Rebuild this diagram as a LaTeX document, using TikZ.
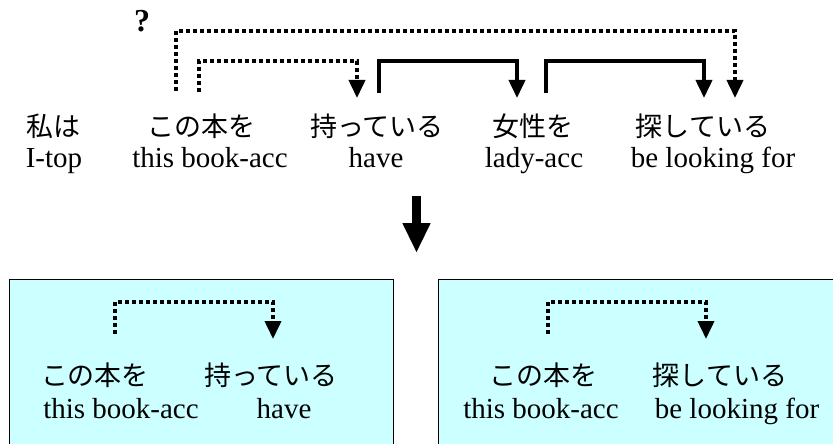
\documentclass[tikz,border=0pt]{standalone}
\usepackage{fontspec}
\setmainfont{Liberation Serif}
\newfontfamily\jpfont{Noto Sans CJK JP}
\usetikzlibrary{arrows.meta}
\definecolor{boxcyan}{HTML}{CCFFFF}
\begin{document}
\begin{tikzpicture}[x=1pt,y=-1pt,
  jpw/.style={font=\jpfont\fontsize{27}{32}\selectfont, anchor=base, inner sep=0pt},
  enw/.style={font=\fontsize{29}{34}\selectfont, anchor=base, inner sep=0pt},
  tip/.style={-{Triangle[width=16pt,length=18pt]}},
  dotarr/.style={tip, line width=3.8pt, dash pattern=on 4pt off 3pt, line join=miter},
  solarr/.style={tip, line width=3.8pt, line join=miter},
  panel/.style={draw=black, line width=1pt, fill=boxcyan}]
\useasboundingbox (0,0) rectangle (833,444);

% top row words
\node[jpw] (w1) at (54,136) {私は};
\node[jpw] (w2) at (201,136) {この本を};
\node[jpw] (w3) at (377,136) {持っている};
\node[jpw] (w4) at (533,136) {女性を};
\node[jpw] (w5) at (703,136) {探している};
\node[enw] (e1) at (54,167) {I-top};
\node[enw] (e2) at (210,167) {this book-acc};
\node[enw] (e3) at (376,167) {have};
\node[enw] (e4) at (534,167) {lady-acc};
\node[enw] (e5) at (713,167) {be looking for};

\node[font=\bfseries\fontsize{32}{36}\selectfont, inner sep=0pt] (q) at (142,21) {?};

% arrow anchors
\coordinate (a1s) at (176,91);
\coordinate (a1e) at (735,98);
\coordinate (a2s) at (199,92);
\coordinate (a2e) at (357,98);
\coordinate (a3s) at (379,93);
\coordinate (a3e) at (517,98);
\coordinate (a4s) at (546,93);
\coordinate (a4e) at (704,98);

\draw[dotarr] (a1s) -- (a1s |- 0,31) -- (a1e |- 0,31) -- (a1e);
\draw[dotarr] (a2s) -- (a2s |- 0,61) -- (a2e |- 0,61) -- (a2e);
\draw[solarr] (a3s) -- (a3s |- 0,61) -- (a3e |- 0,61) -- (a3e);
\draw[solarr] (a4s) -- (a4s |- 0,61) -- (a4e |- 0,61) -- (a4e);

% big down arrow
\coordinate (bt) at (416.5,196);
\coordinate (bb) at (416.5,253);
\draw[line width=9pt, -{Triangle[width=26pt,length=30pt]}] (bt) -- (bb);

% panels
\draw[panel] (9,279) rectangle (393,460);
\draw[panel] (438,279) rectangle (850,460);

% left panel
\node[jpw] (l1) at (95,385) {この本を};
\node[jpw] (l2) at (271,385) {持っている};
\node[enw] (le1) at (121,418) {this book-acc};
\node[enw] (le2) at (284,418) {have};
\coordinate (l1s) at (115,334);
\coordinate (l1e) at (273,339);
\draw[dotarr] (l1s) -- (l1s |- 0,302) -- (l1e |- 0,302) -- (l1e);

% right panel
\node[jpw] (r1) at (543,385) {この本を};
\node[jpw] (r2) at (720,385) {探している};
\node[enw] (re1) at (541,418) {this book-acc};
\node[enw] (re2) at (737,418) {be looking for};
\coordinate (r1s) at (548,334);
\coordinate (r1e) at (706,339);
\draw[dotarr] (r1s) -- (r1s |- 0,302) -- (r1e |- 0,302) -- (r1e);
\end{tikzpicture}
\end{document}
